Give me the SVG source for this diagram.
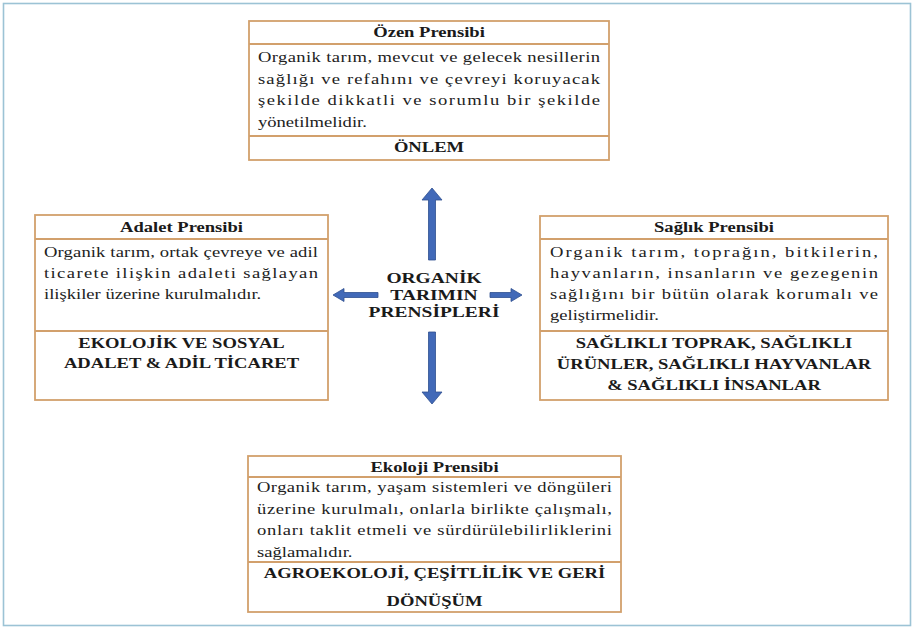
<svg xmlns="http://www.w3.org/2000/svg" width="914" height="633" viewBox="0 0 914 633">
<style>
.frame{fill:#fff;stroke:#9cc3d5;stroke-width:1.6}
.box{fill:#fff;stroke:#d2a06c;stroke-width:1.8}
.sep{stroke:#d2a06c;stroke-width:1.8}
.t{font-family:'Liberation Serif','Times New Roman','DejaVu Serif',serif;font-size:15px;fill:#222}
.b{font-family:'Liberation Serif','Times New Roman','DejaVu Serif',serif;font-size:15px;font-weight:bold;fill:#1a1a1a;text-anchor:middle}
.arr{fill:#4169b8;stroke:#2e4f8f;stroke-width:0.8}
</style>
<rect class="frame" x="3.5" y="3.5" width="907" height="622"/>

<g id="node-ozen">
<rect class="box" x="249" y="21" width="360" height="139"/>
<line class="sep" x1="249" y1="44" x2="609" y2="44"/>
<line class="sep" x1="249" y1="136" x2="609" y2="136"/>
<text class="b" font-family="Liberation Serif, serif" transform="matrix(1.24 0 0 1 429 37)">Özen Prensibi</text>
<text class="t" font-family="Liberation Serif, serif" transform="matrix(1.24 0 0 1 258 62)" textLength="275.8" lengthAdjust="spacing">Organik tarım, mevcut ve gelecek nesillerin</text>
<text class="t" font-family="Liberation Serif, serif" transform="matrix(1.24 0 0 1 258 83.5)" textLength="275.8" lengthAdjust="spacing">sağlığı ve refahını ve çevreyi koruyacak</text>
<text class="t" font-family="Liberation Serif, serif" transform="matrix(1.24 0 0 1 258 105)" textLength="275.8" lengthAdjust="spacing">şekilde dikkatli ve sorumlu bir şekilde</text>
<text class="t" font-family="Liberation Serif, serif" transform="matrix(1.24 0 0 1 258 126.5)">yönetilmelidir.</text>
<text class="b" font-family="Liberation Serif, serif" transform="matrix(1.24 0 0 1 429 151.5)">ÖNLEM</text>
</g>

<g id="node-adalet">
<rect class="box" x="35" y="215" width="293" height="185"/>
<line class="sep" x1="35" y1="239" x2="328" y2="239"/>
<line class="sep" x1="35" y1="331" x2="328" y2="331"/>
<text class="b" font-family="Liberation Serif, serif" transform="matrix(1.24 0 0 1 181.5 231.5)">Adalet Prensibi</text>
<text class="t" font-family="Liberation Serif, serif" transform="matrix(1.24 0 0 1 44 257)" textLength="221" lengthAdjust="spacing">Organik tarım, ortak çevreye ve adil</text>
<text class="t" font-family="Liberation Serif, serif" transform="matrix(1.24 0 0 1 44 278)" textLength="221" lengthAdjust="spacing">ticarete ilişkin adaleti sağlayan</text>
<text class="t" font-family="Liberation Serif, serif" transform="matrix(1.24 0 0 1 44 299)">ilişkiler üzerine kurulmalıdır.</text>
<text class="b" font-family="Liberation Serif, serif" transform="matrix(1.24 0 0 1 181.5 347.5)">EKOLOJİK VE SOSYAL</text>
<text class="b" font-family="Liberation Serif, serif" transform="matrix(1.24 0 0 1 181.5 368)">ADALET &amp; ADİL TİCARET</text>
</g>

<g id="node-saglik">
<rect class="box" x="540" y="216" width="348" height="184"/>
<line class="sep" x1="540" y1="239" x2="888" y2="239"/>
<line class="sep" x1="540" y1="331" x2="888" y2="331"/>
<text class="b" font-family="Liberation Serif, serif" transform="matrix(1.24 0 0 1 714 231.5)">Sağlık Prensibi</text>
<text class="t" font-family="Liberation Serif, serif" transform="matrix(1.24 0 0 1 550 257)" textLength="264.5" lengthAdjust="spacing">Organik tarım, toprağın, bitkilerin,</text>
<text class="t" font-family="Liberation Serif, serif" transform="matrix(1.24 0 0 1 550 278)" textLength="264.5" lengthAdjust="spacing">hayvanların, insanların ve gezegenin</text>
<text class="t" font-family="Liberation Serif, serif" transform="matrix(1.24 0 0 1 550 299)" textLength="264.5" lengthAdjust="spacing">sağlığını bir bütün olarak korumalı ve</text>
<text class="t" font-family="Liberation Serif, serif" transform="matrix(1.24 0 0 1 550 320)">geliştirmelidir.</text>
<text class="b" font-family="Liberation Serif, serif" transform="matrix(1.24 0 0 1 714 347.5)">SAĞLIKLI TOPRAK, SAĞLIKLI</text>
<text class="b" font-family="Liberation Serif, serif" transform="matrix(1.24 0 0 1 714 368.5)">ÜRÜNLER, SAĞLIKLI HAYVANLAR</text>
<text class="b" font-family="Liberation Serif, serif" transform="matrix(1.24 0 0 1 714 390)">&amp; SAĞLIKLI İNSANLAR</text>
</g>

<g id="node-ekoloji">
<rect class="box" x="248" y="456" width="373" height="156"/>
<line class="sep" x1="248" y1="477" x2="621" y2="477"/>
<line class="sep" x1="248" y1="562" x2="621" y2="562"/>
<text class="b" font-family="Liberation Serif, serif" transform="matrix(1.24 0 0 1 434.5 471.5)">Ekoloji Prensibi</text>
<text class="t" font-family="Liberation Serif, serif" transform="matrix(1.24 0 0 1 257 492)" textLength="286.3" lengthAdjust="spacing">Organik tarım, yaşam sistemleri ve döngüleri</text>
<text class="t" font-family="Liberation Serif, serif" transform="matrix(1.24 0 0 1 257 513.5)" textLength="286.3" lengthAdjust="spacing">üzerine kurulmalı, onlarla birlikte çalışmalı,</text>
<text class="t" font-family="Liberation Serif, serif" transform="matrix(1.24 0 0 1 257 535)" textLength="286.3" lengthAdjust="spacing">onları taklit etmeli ve sürdürülebilirliklerini</text>
<text class="t" font-family="Liberation Serif, serif" transform="matrix(1.24 0 0 1 257 556.5)">sağlamalıdır.</text>
<text class="b" font-family="Liberation Serif, serif" transform="matrix(1.24 0 0 1 434.5 578)">AGROEKOLOJİ, ÇEŞİTLİLİK VE GERİ</text>
<text class="b" font-family="Liberation Serif, serif" transform="matrix(1.24 0 0 1 434.5 605.5)">DÖNÜŞÜM</text>
</g>

<g id="node-center">
<text class="b" font-family="Liberation Serif, serif" transform="matrix(1.3 0 0 1 434 283)">ORGANİK</text>
<text class="b" font-family="Liberation Serif, serif" transform="matrix(1.3 0 0 1 434 300)">TARIMIN</text>
<text class="b" font-family="Liberation Serif, serif" transform="matrix(1.3 0 0 1 434 317)">PRENSİPLERİ</text>
</g>

<g id="connectors">
<polygon class="arr" points="432,188 442,200 435.5,200 435.5,260 428.5,260 428.5,200 422,200"/>
<polygon class="arr" points="432,404 442,392 435.5,392 435.5,332 428.5,332 428.5,392 422,392"/>
<polygon class="arr" points="333,295 344,288.5 344,292.5 378,292.5 378,297.5 344,297.5 344,301.5"/>
<polygon class="arr" points="522,295 511,288.5 511,292.5 490,292.5 490,297.5 511,297.5 511,301.5"/>
</g>
</svg>
